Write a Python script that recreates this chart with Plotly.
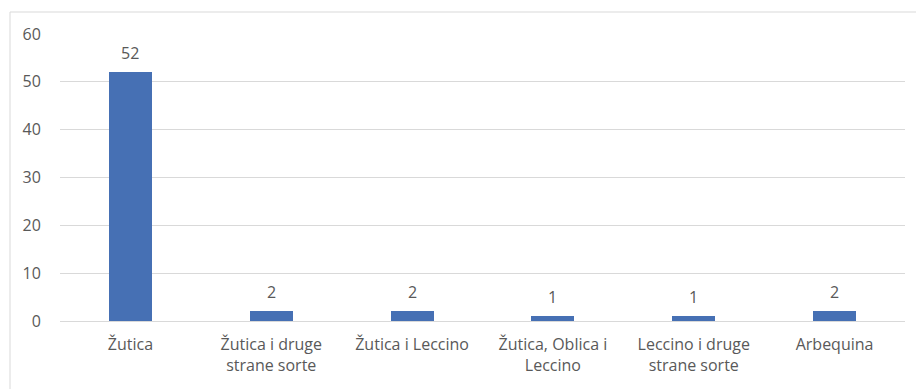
import plotly.graph_objects as go

categories = ["Žutica", "Žutica i druge<br>strane sorte", "Žutica i Leccino",
              "Žutica, Oblica i<br>Leccino", "Leccino i druge<br>strane sorte", "Arbequina"]
values = [52, 2, 2, 1, 1, 2]
y_ticks = [0, 10, 20, 30, 40, 50, 60]

TXT = "#595959"
GRID = "#D9D9D9"
BAR = "#4670B4"

fig = go.Figure(go.Bar(
    x=categories, y=values,
    marker=dict(color=BAR, line=dict(width=0)),
    width=0.305,
    cliponaxis=False,
))

for c, v in zip(categories, values):
    fig.add_annotation(x=c, y=v, text=str(v), showarrow=False, yanchor="bottom",
                       yshift=6, font=dict(size=16, color=TXT))

fig.update_layout(
    width=916, height=389,
    margin=dict(l=60, r=11, t=34, b=68),
    paper_bgcolor="white", plot_bgcolor="white",
    font=dict(family="Open Sans", size=16, color=TXT),
    showlegend=False,
    bargap=0,
    xaxis=dict(showgrid=False, showline=False, ticks="outside", ticklen=9,
               tickcolor="rgba(0,0,0,0)", tickfont=dict(size=16, color=TXT)),
    yaxis=dict(range=[0, 60], tickvals=y_ticks, showgrid=True, gridcolor=GRID, gridwidth=1,
               zeroline=True, zerolinecolor=GRID, zerolinewidth=1, showline=False,
               ticks="outside", ticklen=15, tickcolor="rgba(0,0,0,0)",
               tickfont=dict(size=16, color=TXT)),
    shapes=[dict(type="rect", xref="paper", yref="paper",
                 x0=(10 - 60) / 845, x1=1.05, y0=-0.4, y1=(321 - 12) / 287,
                 line=dict(color="#D9D9D9", width=1), fillcolor="rgba(0,0,0,0)", layer="below")],
)

fig.write_html("out.html")
